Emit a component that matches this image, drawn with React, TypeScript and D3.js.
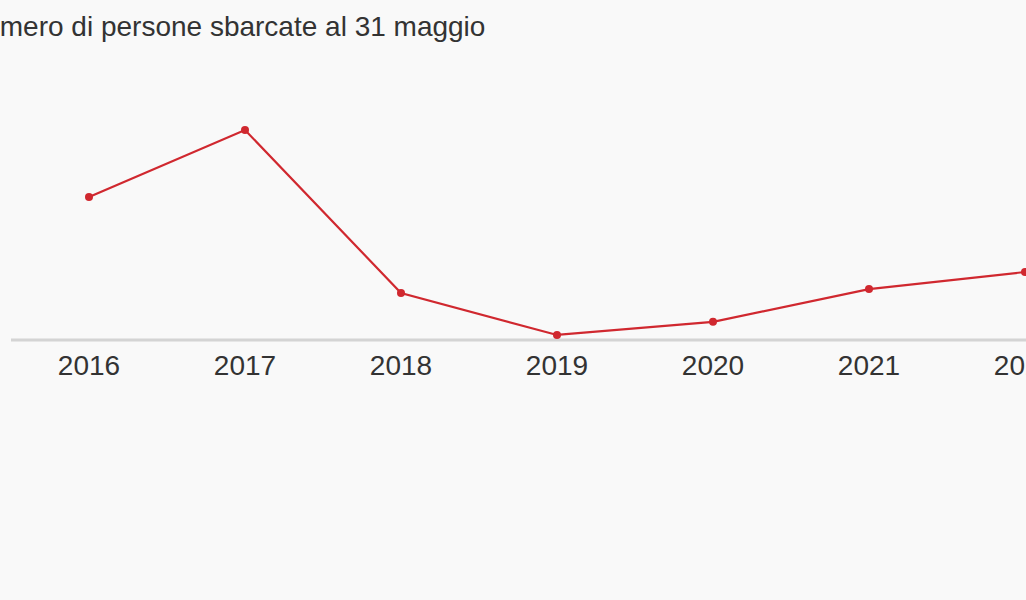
import React from "react";
import * as d3 from "d3";

const years = [2016, 2017, 2018, 2019, 2020, 2021, 2022];
const landings = [41000, 60228, 13480, 1450, 5200, 14600, 19500];
const titleText = "Numero di persone sbarcate al 31 maggio";

const W = 1026;
const H = 600;
const FONT = "'Liberation Sans', Arial, sans-serif";

export default function App() {
  const x = d3.scaleLinear().domain([2016, 2022]).range([89, 1025]);
  const y = d3.scaleLinear().domain([0, 60228]).range([340, 130]);
  const pts = years.map((yr, i) => [x(yr), y(landings[i])] as [number, number]);
  const line = d3.line()(pts) || "";
  return (
    <div style={{ position: "fixed", left: 0, top: 0, width: W, height: H, background: "#f9f9f9" }}>
      <svg width={W} height={H} style={{ display: "block" }}>
        <rect width={W} height={H} fill="#f9f9f9" />
        <text x={-36} y={36} fontFamily={FONT} fontSize={28} fill="#333">
          {titleText}
        </text>
        <line x1={11} x2={W} y1={y(0)} y2={y(0)} stroke="#d4d4d4" strokeWidth={3} />
        {years.map((yr) => (
          <text key={yr} x={x(yr)} y={375} textAnchor="middle" fontFamily={FONT} fontSize={28} fill="#333">
            {yr}
          </text>
        ))}
        <path d={line} fill="none" stroke="#d0282f" strokeWidth={2.2} />
        {pts.map((p, i) => (
          <circle key={i} cx={p[0]} cy={p[1]} r={4} fill="#d0282f" />
        ))}
      </svg>
    </div>
  );
}
